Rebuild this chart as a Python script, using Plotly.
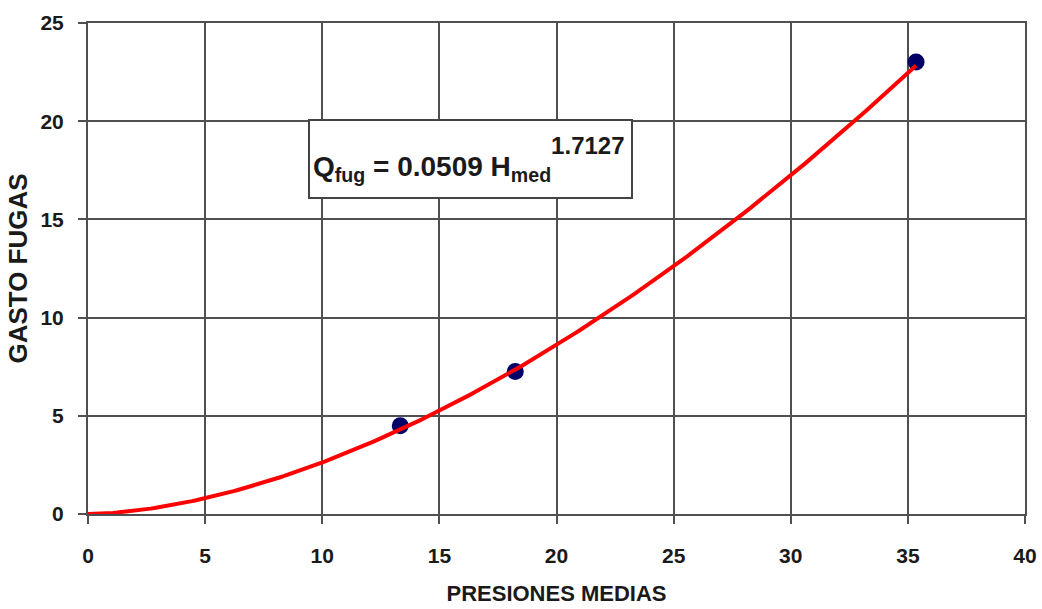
import numpy as np
import plotly.graph_objects as go

# Data
presiones = [13.33, 18.24, 35.35]
gasto = [4.49, 7.25, 23.02]

# Power trend line coefficients (as shown in the equation box)
coef_a = 0.0509
coef_b = 1.7127

x_ticks = [0, 5, 10, 15, 20, 25, 30, 35, 40]
y_ticks = [0, 5, 10, 15, 20, 25]

x_fit = np.linspace(0, max(presiones), 200)
y_fit = coef_a * x_fit ** coef_b

fig = go.Figure()
fig.add_trace(go.Scatter(
    x=presiones, y=gasto, mode="markers",
    marker=dict(color="#000066", size=17, line=dict(width=0)),
    showlegend=False, cliponaxis=False,
))
fig.add_trace(go.Scatter(
    x=x_fit, y=y_fit, mode="lines",
    line=dict(color="#ff0000", width=4),
    showlegend=False,
))

FONT = "Liberation Sans, Arial"

axis_common = dict(
    showgrid=True, gridcolor="#505050", gridwidth=2,
    showline=True, linecolor="#505050", linewidth=2, mirror=True,
    ticks="outside", ticklen=8, tickwidth=2, tickcolor="#505050",
    zeroline=False, automargin=False,
    tickfont=dict(family=FONT, size=21, color="#1a1a1a", weight="bold"),
)

fig.update_xaxes(
    range=[0, 40], tickvals=x_ticks, ticktext=[str(v) for v in x_ticks],
    ticklabelstandoff=14,
    title=dict(text="PRESIONES MEDIAS", standoff=19,
               font=dict(family=FONT, size=22, color="#1a1a1a", weight="bold")),
    **axis_common,
)
fig.update_yaxes(
    range=[0, 25], tickvals=y_ticks, ticktext=[str(v) for v in y_ticks],
    ticklabelstandoff=10,
    title=dict(text="GASTO FUGAS", standoff=5,
               font=dict(family=FONT, size=26, color="#1a1a1a", weight="bold")),
    **axis_common,
)

fig.add_annotation(
    x=9.4, y=18.1, xref="x", yref="y", xanchor="left", yanchor="middle",
    text=(f"Q<sub>fug</sub> = {coef_a} H<sub>med</sub>"
          f"<sup><span style='font-size:24px;baseline-shift:10px'>{coef_b}</span></sup>"),
    showarrow=False, align="left", valign="middle",
    width=315, height=70,
    font=dict(family=FONT, size=28, color="#1a1a1a", weight="bold"),
    bgcolor="white", bordercolor="#444444", borderwidth=2, borderpad=3,
)

fig.update_layout(
    width=1042, height=609,
    margin=dict(l=88, r=17, t=23, b=95),
    paper_bgcolor="white", plot_bgcolor="white",
)

fig.write_html("out.html")
